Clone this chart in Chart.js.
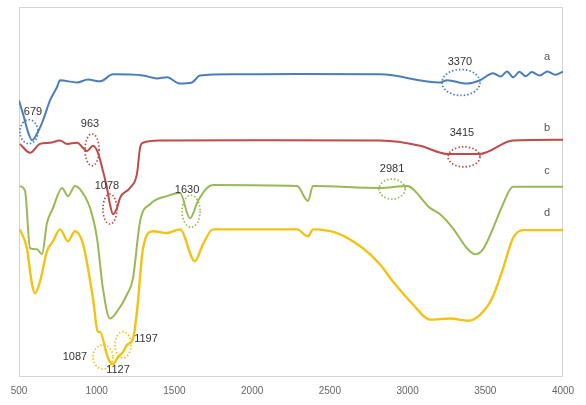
<!DOCTYPE html>
<html>
<head>
<meta charset="utf-8">
<script src="https://cdn.jsdelivr.net/npm/chart.js@4"></script>
<style>
  html, body { margin: 0; padding: 0; background: #fff; }
  #wrap { width: 586px; height: 405px; }
</style>
</head>
<body>
<div id="wrap"><canvas id="ftir"></canvas></div>
<script>
// wavenumber (cm-1) / transmittance pairs
const waveA = [500, 530, 560, 584, 616, 654, 699, 744, 764, 873, 944, 1021, 1105, 1298, 1388, 1452, 1536, 1613, 1665, 1877, 2289, 2823, 3209, 3254, 3382, 3466, 3550, 3600, 3640, 3680, 3720, 3760, 3800, 3850, 3900, 3950, 4000];
const transA = [74.7, 70.5, 66, 64, 65.8, 69.3, 74.7, 78.3, 80.2, 79.6, 80.4, 79.9, 81.8, 81.5, 80.7, 81.0, 79.3, 79.6, 81.5, 81.8, 81.9, 81.8, 79.6, 80.2, 79.3, 80.2, 82.1, 81.2, 82.6, 81.0, 82.5, 81.3, 82.4, 81.5, 82.6, 81.7, 82.5];

const waveB = [506, 571, 635, 699, 764, 809, 873, 938, 976, 1008, 1040, 1066, 1085, 1105, 1131, 1150, 1214, 1259, 1279, 1298, 1407, 2000, 2823, 3080, 3254, 3466, 3678, 4000];
const transB = [63.0, 60.6, 63.0, 63.3, 63.9, 63.0, 63.3, 61.1, 62.5, 60.6, 55.7, 51.1, 46.7, 44.0, 45.7, 48.4, 51.1, 54.9, 62.0, 63.3, 63.9, 64.0, 63.9, 62.5, 60.3, 60.3, 63.9, 64.1];

const waveC = [506, 539, 571, 616, 648, 680, 719, 777, 815, 860, 892, 957, 1002, 1040, 1085, 1131, 1195, 1233, 1279, 1343, 1452, 1536, 1600, 1652, 1710, 1748, 2289, 2359, 2392, 2823, 2996, 3144, 3209, 3292, 3382, 3434, 3485, 3550, 3614, 3678, 4000];
const transC = [51.6, 50.3, 34.8, 34.5, 33.2, 41.6, 45.7, 51.1, 48.9, 51.6, 50.8, 45.7, 37.5, 23.9, 15.8, 17.7, 22.3, 26.6, 42.1, 46.7, 48.9, 49.7, 42.9, 47.6, 51.1, 51.9, 51.6, 47.6, 51.6, 51.1, 51.6, 45.7, 44.0, 40.2, 34.8, 33.2, 34.5, 40.2, 46.7, 51.4, 51.4];

const waveD = [506, 551, 584, 603, 635, 680, 719, 764, 815, 860, 912, 976, 1008, 1021, 1066, 1085, 1105, 1137, 1170, 1195, 1233, 1259, 1298, 1362, 1452, 1536, 1632, 1684, 1748, 2289, 2359, 2392, 2546, 2713, 2823, 2906, 3035, 3144, 3273, 3389, 3466, 3543, 3614, 3678, 3743, 4000];
const transD = [39.9, 34.8, 25.0, 22.6, 25.8, 34.0, 36.7, 39.9, 36.7, 39.4, 35.9, 21.2, 12.2, 12.2, 6.0, 4.1, 3.5, 5.4, 6.8, 8.7, 10.3, 17.7, 34.8, 39.4, 38.9, 39.9, 31.3, 35.9, 39.9, 39.9, 38.0, 39.9, 38.9, 34.8, 30.4, 25.8, 19.6, 15.5, 15.8, 15.2, 16.8, 21.2, 29.3, 37.5, 39.7, 39.7];

const seriesNames = ['a', 'b', 'c', 'd'];
const seriesColors = ['#4a7ebb', '#be4b48', '#98b954', '#f2c314'];
const nameWave = [3897, 3897, 3897, 3897];
const nameTrans = [86.4, 67.4, 55.7, 44.3];

// peak marks: label text, ellipse centre, label position, series index
const peakText = ['679', '963', '1078', '1630', '2981', '3370', '3415', '1087', '1197', '1127'];
const peakWave = [564, 970, 1085, 1607, 2900, 3344, 3363, 1040, 1169, null];
const peakTrans = [66.3, 61.4, 45.4, 44.8, 50.8, 79.6, 59.5, 5.4, 8.7, null];
const peakTextWave = [590, 957, 1066, 1581, 2900, 3337, 3350, 860, 1317, 1137];
const peakTextTrans = [71.5, 68.5, 51.6, 50.5, 56.3, 85.1, 66.0, 5.4, 10.3, 1.9];
const peakSeries = [0, 1, 1, 2, 2, 0, 1, 3, 3, 3];
const peakRx = [9, 7, 7, 9, 13, 19, 16, 10, 8, 0];
const peakRy = [12, 16, 15, 16, 10, 13, 10, 12, 13, 0];

const xTicks = [500, 1000, 1500, 2000, 2500, 3000, 3500, 4000];

const toPoints = (w, t) => w.map((x, i) => ({ x: x, y: t[i] }));

const framePlugin = {
    id: 'frame',
    beforeDatasetsDraw(chart) {
        const { ctx, chartArea: a } = chart;
        ctx.save();
        ctx.strokeStyle = '#d4d4d4';
        ctx.lineWidth = 1;
        ctx.strokeRect(a.left + 0.5, a.top + 0.5, a.right - a.left - 1, a.bottom - a.top - 1);
        ctx.restore();
    }
};

const peakPlugin = {
    id: 'peaks',
    afterDatasetsDraw(chart) {
        const { ctx, scales: { x, y } } = chart;
        ctx.save();
        // dotted ellipses
        ctx.lineWidth = 1.7;
        ctx.setLineDash([1.5, 2]);
        peakText.forEach((txt, i) => {
            if (peakWave[i] === null) return;
            ctx.strokeStyle = seriesColors[peakSeries[i]];
            ctx.beginPath();
            ctx.ellipse(x.getPixelForValue(peakWave[i]), y.getPixelForValue(peakTrans[i]),
                peakRx[i], peakRy[i], 0, 0, Math.PI * 2);
            ctx.stroke();
        });
        ctx.setLineDash([]);
        // peak numbers
        ctx.fillStyle = '#333';
        ctx.font = '11px Arial, "Liberation Sans", sans-serif';
        ctx.textAlign = 'center';
        ctx.textBaseline = 'middle';
        peakText.forEach((txt, i) => {
            ctx.fillText(txt, x.getPixelForValue(peakTextWave[i]), y.getPixelForValue(peakTextTrans[i]));
        });
        // curve names
        ctx.fillStyle = '#555';
        seriesNames.forEach((n, i) => {
            ctx.fillText(n, x.getPixelForValue(nameWave[i]), y.getPixelForValue(nameTrans[i]));
        });
        ctx.restore();
    }
};

new Chart(document.getElementById('ftir').getContext('2d'), {
    type: 'line',
    data: {
        datasets: [
            { label: 'a', data: toPoints(waveA, transA) },
            { label: 'b', data: toPoints(waveB, transB) },
            { label: 'c', data: toPoints(waveC, transC) },
            { label: 'd', data: toPoints(waveD, transD) }
        ].map((d, i) => Object.assign(d, {
            borderColor: seriesColors[i],
            borderWidth: i === 3 ? 2.4 : 2,
            pointRadius: 0,
            fill: false,
            cubicInterpolationMode: 'monotone'
        }))
    },
    options: {
        responsive: true,
        maintainAspectRatio: false,
        animation: false,
        layout: { padding: { left: 19, right: 23, top: 7, bottom: 0 } },
        plugins: {
            legend: { display: false },
            tooltip: { enabled: false }
        },
        scales: {
            x: {
                type: 'linear',
                min: 500,
                max: 4000,
                afterBuildTicks: (s) => { s.ticks = xTicks.map(v => ({ value: v })); },
                grid: { display: false, drawTicks: false },
                border: { display: false },
                ticks: {
                    padding: 8,
                    color: '#666',
                    font: { family: 'Arial, "Liberation Sans", sans-serif', size: 10 },
                    maxRotation: 0,
                    callback: (v) => String(v)
                }
            },
            y: {
                display: false,
                min: 0,
                max: 100
            }
        }
    },
    plugins: [framePlugin, peakPlugin]
});
</script>
</body>
</html>
